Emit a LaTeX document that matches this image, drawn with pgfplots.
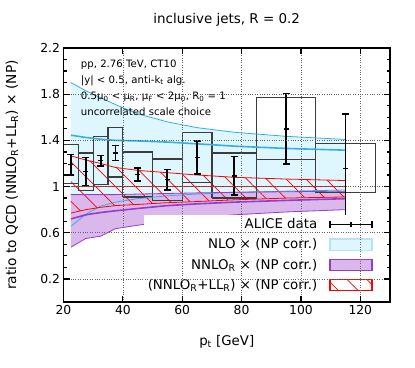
\documentclass[border=0pt]{standalone}
\usepackage{fontspec}
\setmainfont{DejaVu Sans}
\usepackage{pgfplots}
\usepackage{pgfplotstable}
\pgfplotsset{compat=1.18}
\usepgfplotslibrary{fillbetween}
\usetikzlibrary{patterns.meta}

\definecolor{nlofill}{RGB}{222,246,253}
\definecolor{nloline}{RGB}{55,175,225}
\definecolor{nnlofill}{RGB}{218,184,236}
\definecolor{nnloline}{RGB}{148,60,205}
\definecolor{boxgray}{RGB}{60,60,60}

% theory bands at bin centres
\pgfplotstableread{
x     nloL  nloC  nloU  nnloL nnloC nnloU resL  resC resU
22.5  0.655 1.445 1.90  0.475 0.72  0.93  0.77  1    1.265
27.5  0.76  1.425 1.83  0.55  0.755 0.93  0.80  1    1.23
32.5  0.83  1.41  1.77  0.57  0.775 0.93  0.82  1    1.20
37.5  0.865 1.40  1.71  0.635 0.79  0.93  0.835 1    1.165
45    0.895 1.395 1.63  0.665 0.81  0.935 0.845 1    1.14
55    0.92  1.385 1.56  0.70  0.835 0.94  0.86  1    1.12
65    0.935 1.37  1.51  0.725 0.85  0.945 0.87  1    1.10
77.5  0.95  1.35  1.47  0.755 0.865 0.95  0.885 1    1.08
95    0.96  1.33  1.435 0.78  0.88  0.955 0.90  1    1.065
115   0.97  1.315 1.408 0.80  0.895 0.96  0.91  1    1.052
}\theory

% ALICE points with statistical errors
\pgfplotstableread{
x     y     ey
22.5  1.19  0.088
27.5  1.13  0.12
32.5  1.225 0.045
37.5  1.29  0.065
45    1.105 0.055
55    1.06  0.088
65    1.25  0.143
77.5  1.093 0.168
95    1.50  0.305
115   1.157 0.47
}\alice

\begin{document}
\begin{tikzpicture}
\begin{axis}[
  scale only axis,
  width=326.5bp, height=254bp,
  xmin=20, xmax=130,
  ymin=0, ymax=2.2,
  xtick={20,40,...,120},
  ytick={0.2,0.6,1,1.4,1.8,2.2},
  minor y tick num=3,
  grid=major,
  major grid style={black!60, dotted, line width=0.6bp},
  axis on top,
  axis line style={line width=1.5bp},
  tick style={black, line width=1.2bp},
  major tick length=6bp,
  minor tick length=3.5bp,
  tick label style={font=\fontsize{12.4}{14}\selectfont},
  /pgf/number format/assume math mode=true,
  title={inclusive jets, R = 0.2},
  title style={at={(axis description cs:0.5,1)}, anchor=base, yshift=18.7bp, font=\fontsize{13.5}{15}\selectfont},
  xlabel={p\textsubscript{t} [GeV]},
  xlabel style={at={(axis description cs:0.5,-0.1575)}, anchor=center, font=\fontsize{13.4}{15}\selectfont},
  ylabel={ratio to QCD (NNLO\textsubscript{R}+LL\textsubscript{R}) × (NP)},
  ylabel style={at={(axis description cs:-0.158,0.5)}, anchor=center, font=\fontsize{13.8}{15}\selectfont},
  legend style={at={(rel axis cs:1,0)}, anchor=south east, xshift=-15bp, yshift=7bp,
    fill=white, draw=none, font=\fontsize{13.4}{15}\selectfont, row sep=4.6bp, inner sep=2bp,
    /tikz/every odd column/.append style={column sep=10bp}},
  legend cell align=right,
  legend plot pos=right,
]
  % band edges (paths only)
  \addplot[draw=none, name path=nloU, forget plot] table[x=x,y=nloU]{\theory};
  \addplot[draw=none, name path=nloL, forget plot] table[x=x,y=nloL]{\theory};
  \addplot[draw=none, name path=nnloU, forget plot] table[x=x,y=nnloU]{\theory};
  \addplot[draw=none, name path=nnloL, forget plot] table[x=x,y=nnloL]{\theory};
  \addplot[draw=none, name path=resU, forget plot] table[x=x,y=resU]{\theory};
  \addplot[draw=none, name path=resL, forget plot] table[x=x,y=resL]{\theory};

  \addplot[fill=nlofill, draw=none, forget plot] fill between[of=nloU and nloL];
  \addplot[fill=nnlofill, draw=none, forget plot] fill between[of=nnloU and nnloL];
  \addplot[pattern={Lines[angle=-45,distance=14bp,line width=0.7bp]}, pattern color=red, draw=none, forget plot] fill between[of=resU and resL];

  % systematic boxes
  \addplot[draw=boxgray, line width=1.2bp, unbounded coords=jump, line join=miter, forget plot] coordinates {
    (20,1.024) (20,1.364) (25,1.364) (25,1.024) (20,1.024) (nan,nan)
    (25,0.965) (25,1.29) (30,1.29) (30,0.965) (25,0.965) (nan,nan)
    (30,1.02) (30,1.43) (35,1.43) (35,1.02) (30,1.02) (nan,nan)
    (35,1.082) (35,1.51) (40,1.51) (40,1.082) (35,1.082) (nan,nan)
    (40,0.91) (40,1.30) (50,1.30) (50,0.91) (40,0.91) (nan,nan)
    (50,0.878) (50,1.239) (60,1.239) (60,0.878) (50,0.878) (nan,nan)
    (60,1.035) (60,1.466) (70,1.466) (70,1.035) (60,1.035) (nan,nan)
    (70,0.90) (70,1.29) (85,1.29) (85,0.90) (70,0.90) (nan,nan)
    (85,1.233) (85,1.772) (105,1.772) (105,1.233) (85,1.233) (nan,nan)
    (105,0.948) (105,1.373) (125,1.373) (125,0.948) (105,0.948)
  };

  % band lines
  \addplot[nloline, line width=0.8bp, forget plot] table[x=x,y=nloU]{\theory};
  \addplot[nloline, line width=0.8bp, forget plot] table[x=x,y=nloL]{\theory};
  \addplot[nloline, line width=1.6bp, forget plot] table[x=x,y=nloC]{\theory};
  \addplot[nnloline, line width=0.8bp, forget plot] table[x=x,y=nnloU]{\theory};
  \addplot[nnloline, line width=0.8bp, forget plot] table[x=x,y=nnloL]{\theory};
  \addplot[nnloline, line width=1.6bp, forget plot] table[x=x,y=nnloC]{\theory};
  \addplot[red, line width=0.8bp, forget plot] table[x=x,y=resU]{\theory};
  \addplot[red, line width=0.8bp, forget plot] table[x=x,y=resL]{\theory};
  \addplot[red, line width=1.6bp, forget plot] table[x=x,y=resC]{\theory};

  % ALICE data
  \addplot[black, forget plot, only marks, mark=-, mark size=2.5bp, mark options={line width=1.6bp},
    error bars/.cd, y dir=both, y explicit, error mark=-,
    error bar style={line width=1.8bp},
    error mark options={rotate=90, line width=1.6bp, mark size=3.5bp, black}]
    table[x=x,y=y,y error=ey]{\alice};

  % legend
  \addlegendimage{legend image code/.code={
    \draw[line width=1.5bp] (0bp,0bp) -- (42bp,0bp);
    \draw[line width=1.5bp] (0bp,-3.8bp) -- (0bp,3.8bp) (42bp,-3.8bp) -- (42bp,3.8bp) (21bp,-2.5bp) -- (21bp,2.5bp);}}
  \addlegendentry{ALICE data}
  \addlegendimage{legend image code/.code={
    \draw[fill=nlofill, draw=nloline!35, line width=1.2bp] (0bp,-5.6bp) rectangle (42bp,5.6bp);}}
  \addlegendentry{NLO × (NP corr.)}
  \addlegendimage{legend image code/.code={
    \draw[fill=nnlofill, draw=nnloline, line width=1.2bp] (0bp,-5.6bp) rectangle (42bp,5.6bp);}}
  \addlegendentry{NNLO\textsubscript{R} × (NP corr.)}
  \addlegendimage{legend image code/.code={
    \fill[white] (0bp,-5.6bp) rectangle (42bp,5.6bp);
    \fill[pattern={Lines[angle=-45,distance=14bp,line width=0.7bp]}, pattern color=red] (0bp,-5.6bp) rectangle (42bp,5.6bp);
    \draw[red, line width=1.2bp] (0bp,-5.6bp) rectangle (42bp,5.6bp);}}
  \addlegendentry{(NNLO\textsubscript{R}+LL\textsubscript{R}) × (NP corr.)}

  \node[anchor=north west, align=left, inner sep=0pt, font=\fontsize{10.2}{16.3}\selectfont]
    at (rel axis cs:0.0527,0.955)
    {pp, 2.76 TeV, CT10\\
     |y| < 0.5, anti-k\textsubscript{t} alg.\\
     0.5μ\textsubscript{0} < μ\textsubscript{R}, μ\textsubscript{F} < 2μ\textsubscript{0}, R\textsubscript{0} = 1\\
     uncorrelated scale choice};
\end{axis}
\path[use as bounding box] (-63.5bp,-66bp) rectangle (351.5bp,302bp);
\end{tikzpicture}
\end{document}
